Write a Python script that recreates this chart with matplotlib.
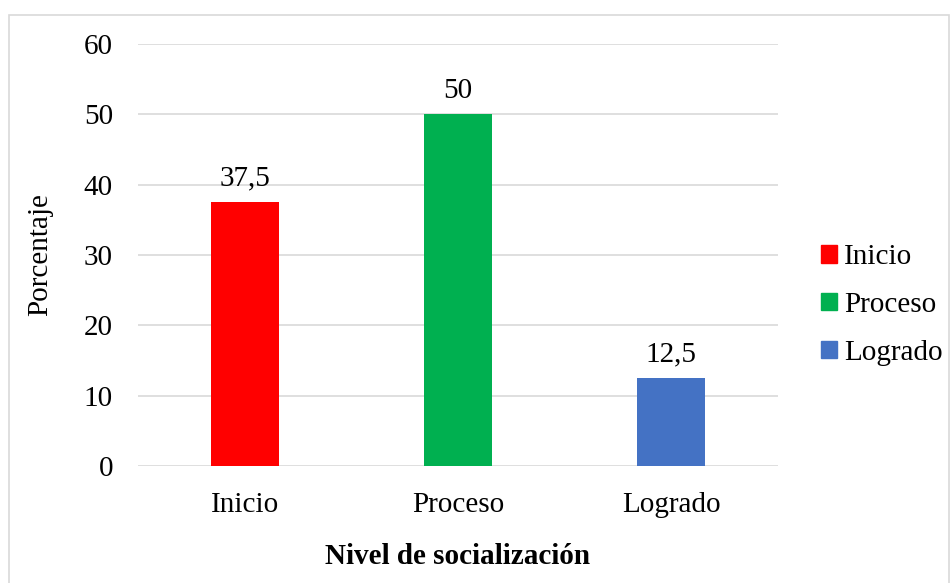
import matplotlib.pyplot as plt
from matplotlib.patches import Rectangle, Patch

categories = ["Inicio", "Proceso", "Logrado"]
values = [37.5, 50, 12.5]
labels = ["37,5", "50", "12,5"]
colors = ["#ff0000", "#00b050", "#4472c4"]
yticks = [0, 10, 20, 30, 40, 50, 60]

plt.rcParams['font.family'] = ['Liberation Serif', 'DejaVu Serif']
fs = 21

fig = plt.figure(figsize=(9.53, 5.83), dpi=100)
# outer chart border
fig.patches.append(Rectangle((9 / 953, -0.01), 940 / 953, 1 - 15 / 583 + 0.01,
                             transform=fig.transFigure, fill=False,
                             edgecolor="#d9d9d9", linewidth=1.2))

ax = fig.add_axes([138 / 953, 1 - 466 / 583, 640 / 953, 422 / 583])
x = list(range(len(categories)))
bars = ax.bar(x, values, width=0.32, color=colors, zorder=3)
for b, lab in zip(bars, labels):
    ax.text(b.get_x() + b.get_width() / 2, b.get_height() + 1.5, lab,
            ha="center", va="bottom", fontsize=fs)

ax.set_xlim(-0.5, 2.5)
ax.set_ylim(0, 60)
ax.set_yticks(yticks)
ax.set_yticklabels([str(t) for t in yticks], fontsize=fs)
ax.set_xticks(x)
ax.set_xticklabels(categories, fontsize=fs)
ax.tick_params(axis="both", length=0)
ax.tick_params(axis="y", pad=18)
ax.tick_params(axis="x", pad=19)
ax.grid(axis="y", color="#d9d9d9", linewidth=1.2, zorder=0)
for s in ax.spines.values():
    s.set_visible(False)

ax.set_xlabel("Nivel de socialización", fontsize=fs, fontweight="bold", labelpad=18)
ax.set_ylabel("Porcentaje", fontsize=fs, labelpad=22)

handles = [Patch(color=c) for c in colors]
fig.legend(handles, categories, loc="center left", bbox_to_anchor=(0.834, 0.477),
           frameon=False, fontsize=fs, handlelength=0.55, handleheight=0.55,
           handletextpad=0.25, labelspacing=0.75)

fig.savefig("out.png", dpi=100)
